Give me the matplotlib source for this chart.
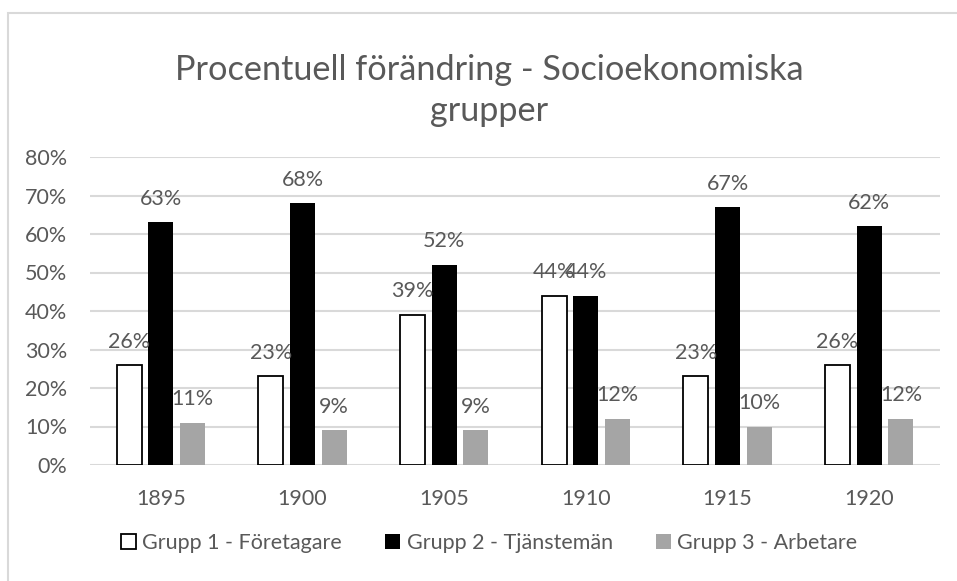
import matplotlib.pyplot as plt
import numpy as np
from matplotlib.patches import Patch, Rectangle

plt.rcParams['font.family'] = ['Lato', 'DejaVu Sans']

years = ["1895", "1900", "1905", "1910", "1915", "1920"]
grupp1 = [26, 23, 39, 44, 23, 26]
grupp2 = [63, 68, 52, 44, 67, 62]
grupp3 = [11, 9, 9, 12, 10, 12]
series_names = ["Grupp 1 - Företagare", "Grupp 2 - Tjänstemän", "Grupp 3 - Arbetare"]

txt = "#595959"
grid = "#D9D9D9"
fs = 15.5

fig = plt.figure(figsize=(9.57, 5.81), dpi=100)
# chart border
fig.patches.append(Rectangle((8 / 957, -0.1), 1.2, (581 - 13) / 581 + 0.1,
                             transform=fig.transFigure, fill=False,
                             edgecolor=grid, linewidth=1.5))

ax = fig.add_axes([90 / 957, (581 - 465) / 581, 850 / 957, 308 / 581])

x = np.arange(len(years))
w = 0.176
step = 0.224
b1 = ax.bar(x - step, np.array(grupp1) / 100, w, color="white", edgecolor="black",
            linewidth=1.3, zorder=3)
b2 = ax.bar(x, np.array(grupp2) / 100, w, color="black", zorder=3)
b3 = ax.bar(x + step, np.array(grupp3) / 100, w, color="#A5A5A5", zorder=3)

for bars, vals in ((b1, grupp1), (b2, grupp2), (b3, grupp3)):
    for bar, v in zip(bars, vals):
        ax.annotate(f"{v}%", (bar.get_x() + bar.get_width() / 2, bar.get_height()),
                    xytext=(0, 12.5), textcoords="offset points", ha="center",
                    va="baseline", fontsize=fs, color=txt, zorder=4)

ax.set_xlim(-0.5, len(years) - 0.5)
ax.set_ylim(0, 0.8)
ax.set_yticks(np.arange(0, 0.81, 0.1))
ax.set_yticklabels([f"{int(round(t * 100))}%" for t in np.arange(0, 0.81, 0.1)])
ax.set_xticks(x)
ax.set_xticklabels(years)
ax.tick_params(axis="both", length=0, labelsize=fs, labelcolor=txt)
ax.tick_params(axis="y", pad=16.5)
ax.tick_params(axis="x", pad=17)
ax.grid(axis="y", color=grid, linewidth=1.5, zorder=0)
for s in ax.spines.values():
    s.set_visible(False)

fig.text(0.511, (581 - 70) / 581, "Procentuell förändring - Socioekonomiska",
         ha="center", va="center", fontsize=24.7, color=txt)
fig.text(0.511, (581 - 111) / 581, "grupper", ha="center", va="center",
         fontsize=24.7, color=txt)

handles = [Patch(facecolor="white", edgecolor="black", linewidth=1.3),
           Patch(facecolor="black"),
           Patch(facecolor="#A5A5A5")]
fig.legend(handles, series_names, loc="center", bbox_to_anchor=(0.511, (581 - 543) / 581),
           ncol=3, frameon=False, fontsize=fs, labelcolor=txt,
           handlelength=0.7, handleheight=0.7, handletextpad=0.3, columnspacing=2.0)

fig.savefig("out.png", dpi=100)
